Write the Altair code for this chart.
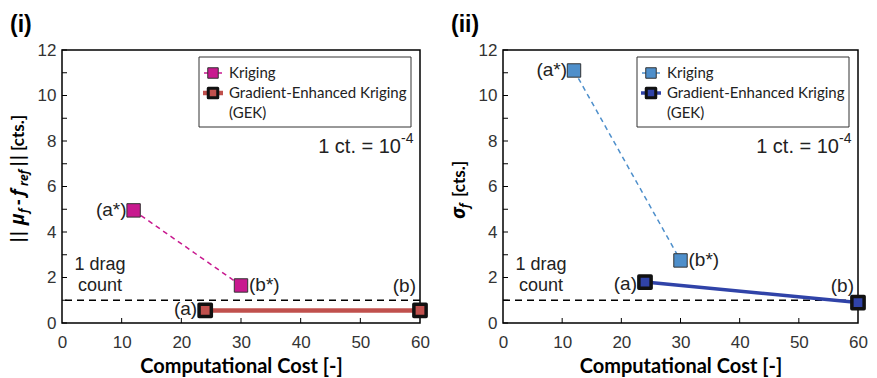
import altair as alt
import pandas as pd

# ---- data ----
cost_kriging = [12, 30]
cost_gek = [24, 60]
mean_err_kriging = [4.95, 1.65]
mean_err_gek = [0.55, 0.55]
sigma_kriging = [11.1, 2.75]
sigma_gek = [1.8, 0.9]
labels_kriging = ["(a*)", "(b*)"]
labels_gek = ["(a)", "(b)"]
drag_count_level = [1]
x_ticks = [0, 10, 20, 30, 40, 50, 60]
y_ticks = [0, 2, 4, 6, 8, 10, 12]
y_minor = list(range(0, 13))

H = 273
x_scale = alt.Scale(domain=[0, 60], nice=False, zero=False)
y_scale = alt.Scale(domain=[0, 12], nice=False, zero=False)
ONE = alt.Data(values=[{"k": 0}])
TXT = "#222222"
ANN_FONT = "Liberation Sans"
SANS = "Lato"

X_AXIS = alt.Axis(values=x_ticks, title="Computational Cost [-]", labelPadding=11,
                  labelFlush=False, titlePadding=6)
Y_AXIS = alt.Axis(values=y_ticks, title="", labelPadding=6, labelFlush=False)


def vtext(txt, x, y, size=17, font=SANS, style="normal", weight="bold", angle=0,
          align="left", baseline="alphabetic", color="black"):
    return alt.Chart(ONE).mark_text(
        text=txt, font=font, fontSize=size, fontStyle=style, fontWeight=weight,
        angle=angle, align=align, baseline=baseline, color=color
    ).encode(x=alt.value(x), y=alt.value(y))


def panel(W, yk, yg, kcol, gline, gfill, gwidth, title_pieces, panel_label, b_dy, a_dy):
    dk = pd.DataFrame({"cost": cost_kriging, "val": yk, "lab": labels_kriging})
    dg = pd.DataFrame({"cost": cost_gek, "val": yg, "lab": labels_gek})
    dl = pd.DataFrame({"level": drag_count_level})
    r = W - 358  # shift for right-anchored decorations

    Xq = alt.X("cost:Q", scale=x_scale, axis=X_AXIS)
    Yq = alt.Y("val:Q", scale=y_scale, axis=Y_AXIS)

    layers = []
    layers.append(alt.Chart(dk).mark_line(color=kcol, strokeWidth=1.5, strokeDash=[5, 4]).encode(
        x=Xq, y=Yq))
    # inside ticks
    layers.append(alt.Chart(pd.DataFrame({"t": y_minor})).mark_rule(color="black", strokeWidth=1).encode(
        y=alt.Y("t:Q", scale=y_scale, axis=Y_AXIS), x=alt.value(0), x2=alt.value(5)))
    layers.append(alt.Chart(pd.DataFrame({"t": x_ticks[1:-1]})).mark_rule(color="black", strokeWidth=1).encode(
        x=alt.X("t:Q", scale=x_scale, axis=X_AXIS), y=alt.value(H), y2=alt.value(H - 5)))
    # drag count reference
    layers.append(alt.Chart(dl).mark_rule(color="black", strokeWidth=1.5, strokeDash=[7, 5]).encode(
        y=alt.Y("level:Q", scale=y_scale, axis=Y_AXIS)))
    # GEK line
    layers.append(alt.Chart(dg).mark_line(color=gline, strokeWidth=gwidth).encode(x=Xq, y=Yq))
    # markers
    layers.append(alt.Chart(dk).mark_point(shape="square", filled=True, size=180, fill=kcol,
                                           stroke="#333333", strokeWidth=1, opacity=1).encode(x=Xq, y=Yq))
    layers.append(alt.Chart(dg).mark_point(shape="square", filled=True, size=150, fill=gfill,
                                           stroke="#111111", strokeWidth=3.5, strokeJoin="round",
                                           opacity=1).encode(x=Xq, y=Yq))
    # point labels
    lab = dict(font=ANN_FONT, fontSize=19, color=TXT, baseline="middle")
    layers.append(alt.Chart(dk).transform_filter(alt.datum.lab == "(a*)").mark_text(
        align="right", dx=-7, **lab).encode(x=Xq, y=Yq, text="lab:N"))
    layers.append(alt.Chart(dk).transform_filter(alt.datum.lab == "(b*)").mark_text(
        align="left", dx=8, **lab).encode(x=Xq, y=Yq, text="lab:N"))
    layers.append(alt.Chart(dg).transform_filter(alt.datum.lab == "(a)").mark_text(
        align="right", dx=-8, dy=a_dy, **lab).encode(x=Xq, y=Yq, text="lab:N"))
    layers.append(alt.Chart(dg).transform_filter(alt.datum.lab == "(b)").mark_text(
        align="right", dx=-4, dy=b_dy, **lab).encode(x=Xq, y=Yq, text="lab:N"))
    # drag count text
    layers.append(vtext("1 drag", 38, 215, size=18, font=ANN_FONT, weight="normal", align="center",
                        baseline="middle", color=TXT))
    layers.append(vtext("count", 38, 236, size=18, font=ANN_FONT, weight="normal", align="center",
                        baseline="middle", color=TXT))
    # unit note
    layers.append(vtext("1 ct. = 10", 339 + r, 97, size=20, font=ANN_FONT, weight="normal", align="right",
                        baseline="middle", color=TXT))
    layers.append(vtext("-4", 339 + r, 89, size=14, font=ANN_FONT, weight="normal", align="left",
                        baseline="middle", color=TXT))
    # legend
    lx = 137 + r
    layers.append(alt.Chart(ONE).mark_rect(fill="white", stroke="#333333", strokeWidth=1).encode(
        x=alt.value(lx), x2=alt.value(lx + 212), y=alt.value(7), y2=alt.value(77)))
    layers.append(alt.Chart(ONE).mark_rule(color=kcol, strokeWidth=1.5).encode(
        x=alt.value(lx + 5), x2=alt.value(lx + 23), y=alt.value(23)))
    layers.append(alt.Chart(ONE).mark_point(shape="square", filled=True, size=110, fill=kcol,
                                            stroke="#333333", strokeWidth=1, opacity=1).encode(
        x=alt.value(lx + 14), y=alt.value(23)))
    layers.append(alt.Chart(ONE).mark_rule(color=gline, strokeWidth=gwidth).encode(
        x=alt.value(lx + 4), x2=alt.value(lx + 24), y=alt.value(43)))
    layers.append(alt.Chart(ONE).mark_point(shape="square", filled=True, size=90, fill=gfill,
                                            stroke="#111111", strokeWidth=3, strokeJoin="round",
                                            opacity=1).encode(x=alt.value(lx + 14), y=alt.value(43)))
    leg = dict(size=15, font=SANS, weight="normal", align="left", baseline="middle", color=TXT)
    layers.append(vtext("Kriging", lx + 30, 23, **leg))
    layers.append(vtext("Gradient-Enhanced Kriging", lx + 30, 43, **leg))
    layers.append(vtext("(GEK)", lx + 30, 63, **leg))
    # panel label
    layers.append(vtext(panel_label, -52, -25, size=23, font=ANN_FONT, weight="bold", align="left",
                        baseline="middle"))
    # composite y-axis title (rotated pieces)
    for (txt, bx, start, size, font, style) in title_pieces:
        layers.append(vtext(txt, bx, start, size=size, font=font, style=style, weight="bold",
                            angle=270, align="left", baseline="alphabetic"))

    return alt.layer(*layers).properties(width=W, height=H)


left_title = [
    ("||", -38, 193, 17, "DejaVu Sans", "normal"),
    ("μ", -38, 175, 19, "Open Sans", "italic"),
    ("f", -34, 163, 12, "Open Sans", "italic"),
    ("-", -38, 155, 17, "Open Sans", "normal"),
    ("f", -38, 146, 18, "Open Sans", "italic"),
    ("ref", -34, 136, 12, "Open Sans", "italic"),
    ("||", -38, 117, 17, "DejaVu Sans", "normal"),
    ("[cts.]", -38, 101, 17, SANS, "normal"),
]
right_title = [
    ("σ", -38, 169, 19, "Open Sans", "italic"),
    ("f", -34, 158, 12, "Open Sans", "italic"),
    ("[cts.]", -38, 147, 17, SANS, "normal"),
]

p1 = panel(358, mean_err_kriging, mean_err_gek, "#C8198F", "#C0504D", "#C0504D", 4.5, left_title, "(i)", -24, -1)
p2 = panel(355, sigma_kriging, sigma_gek, "#4E8FCB", "#3043A8", "#3043A8", 3.5, right_title, "(ii)", -17, 2)

chart = alt.hconcat(p1, p2, spacing=18).properties(
    padding={"left": 0, "top": 5, "right": 0, "bottom": 0}, background="white"
).configure_view(stroke="black", strokeWidth=1.5).configure_axis(
    labelFont=ANN_FONT, labelFontSize=17, labelColor="#333333", ticks=False, domain=False, grid=False,
    titleFont=SANS, titleFontSize=20, titleFontWeight="bold", titleColor="black"
)

chart.save("out.html", embed_options={"renderer": "svg", "actions": False})
